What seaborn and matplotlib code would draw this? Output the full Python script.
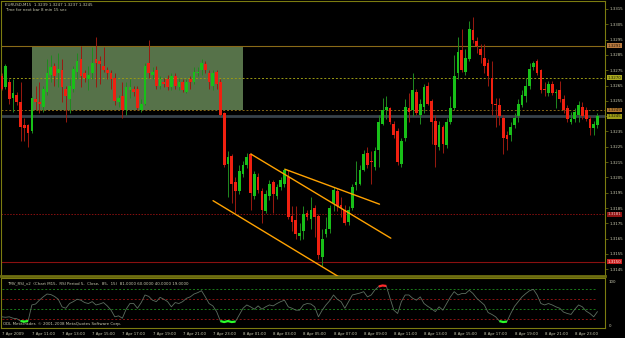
import numpy as np
import pandas as pd
import matplotlib
matplotlib.use("Agg")
import matplotlib.pyplot as plt
import matplotlib.transforms as mtransforms
from matplotlib.patches import Rectangle
import seaborn as sns

# ---------------- data ----------------
symbol_title = "EURUSD,M15  1.3239 1.3247 1.3237 1.3245"
timer_text = "Time for next bar 8 min 15 sec"
indicator_title = "TMV_RSI_v2  (Chart M15,  RSI Period 5,  Close,  85,  15)  81.0000 60.0000 40.0000 19.0000"
copyright_text = "ODL MetaTrader, \u00a9 2001-2008 MetaQuotes Software Corp."

opens = [
    1.3271, 1.3264, 1.3267, 1.3257, 1.3259, 1.3254, 1.3239, 1.3239, 1.3235, 1.3256,
    1.3254, 1.3251, 1.3261, 1.3272, 1.3278, 1.3273, 1.3275, 1.3263, 1.3256, 1.3263,
    1.3274, 1.3282, 1.3273, 1.3269, 1.3273, 1.3282, 1.3281, 1.3278, 1.3275, 1.3273,
    1.3270, 1.3254, 1.3258, 1.3249, 1.3262, 1.3263, 1.3263, 1.3249, 1.3253, 1.3280,
    1.3272, 1.3275, 1.3265, 1.3267, 1.3269, 1.3264, 1.3271, 1.3264, 1.3267, 1.3261,
    1.3269, 1.3267, 1.3273, 1.3275, 1.3279, 1.3273, 1.3265, 1.3274, 1.3267, 1.3247,
    1.3214, 1.3219, 1.3202, 1.3196, 1.3207, 1.3213, 1.3220, 1.3193, 1.3205, 1.3196,
    1.3183, 1.3193, 1.3202, 1.3193, 1.3199, 1.3201, 1.3205, 1.3180, 1.3177, 1.3167,
    1.3170, 1.3182, 1.3178, 1.3185, 1.3180, 1.3153, 1.3168, 1.3171, 1.3188, 1.3196,
    1.3187, 1.3184, 1.3176, 1.3185, 1.3200, 1.3201, 1.3210, 1.3221, 1.3216, 1.3212,
    1.3223, 1.3240, 1.3249, 1.3250, 1.3240, 1.3235, 1.3214, 1.3231, 1.3250, 1.3249,
    1.3261, 1.3246, 1.3251, 1.3265, 1.3255, 1.3242, 1.3225, 1.3238, 1.3226, 1.3241,
    1.3250, 1.3273, 1.3288, 1.3274, 1.3282, 1.3301, 1.3294, 1.3289, 1.3283, 1.3280,
    1.3270, 1.3253, 1.3252, 1.3244, 1.3233, 1.3233, 1.3239, 1.3245, 1.3252, 1.3258,
    1.3265, 1.3277, 1.3281, 1.3275, 1.3263, 1.3260, 1.3266, 1.3260, 1.3262, 1.3256,
    1.3250, 1.3241, 1.3243, 1.3246, 1.3251, 1.3249, 1.3243, 1.3237, 1.3239,
]
highs = [
    1.3273, 1.3279, 1.3269, 1.3269, 1.3261, 1.3267, 1.3244, 1.3240, 1.3258, 1.3265,
    1.3267, 1.3265, 1.3282, 1.3285, 1.3280, 1.3286, 1.3282, 1.3265, 1.3269, 1.3278,
    1.3286, 1.3291, 1.3275, 1.3278, 1.3290, 1.3297, 1.3284, 1.3290, 1.3277, 1.3275,
    1.3273, 1.3259, 1.3267, 1.3267, 1.3269, 1.3265, 1.3265, 1.3256, 1.3280, 1.3295,
    1.3277, 1.3278, 1.3271, 1.3270, 1.3272, 1.3273, 1.3273, 1.3270, 1.3269, 1.3269,
    1.3271, 1.3277, 1.3277, 1.3282, 1.3281, 1.3275, 1.3275, 1.3275, 1.3269, 1.3248,
    1.3222, 1.3220, 1.3205, 1.3213, 1.3216, 1.3221, 1.3221, 1.3209, 1.3208, 1.3198,
    1.3197, 1.3203, 1.3203, 1.3201, 1.3205, 1.3211, 1.3210, 1.3186, 1.3186, 1.3175,
    1.3186, 1.3184, 1.3192, 1.3187, 1.3181, 1.3171, 1.3179, 1.3187, 1.3199, 1.3198,
    1.3192, 1.3187, 1.3186, 1.3201, 1.3216, 1.3213, 1.3223, 1.3225, 1.3222, 1.3225,
    1.3246, 1.3257, 1.3258, 1.3251, 1.3242, 1.3237, 1.3231, 1.3256, 1.3260, 1.3273,
    1.3263, 1.3256, 1.3266, 1.3267, 1.3256, 1.3246, 1.3242, 1.3239, 1.3244, 1.3258,
    1.3285, 1.3297, 1.3302, 1.3289, 1.3307, 1.3310, 1.3297, 1.3292, 1.3292, 1.3282,
    1.3281, 1.3257, 1.3257, 1.3246, 1.3235, 1.3241, 1.3247, 1.3256, 1.3262, 1.3270,
    1.3280, 1.3281, 1.3282, 1.3276, 1.3267, 1.3268, 1.3268, 1.3263, 1.3268, 1.3259,
    1.3252, 1.3248, 1.3250, 1.3255, 1.3254, 1.3251, 1.3245, 1.3242, 1.3247,
]
lows = [
    1.3262, 1.3263, 1.3253, 1.3248, 1.3252, 1.3229, 1.3229, 1.3225, 1.3234, 1.3249,
    1.3247, 1.3248, 1.3259, 1.3267, 1.3265, 1.3264, 1.3254, 1.3241, 1.3247, 1.3261,
    1.3269, 1.3264, 1.3267, 1.3262, 1.3269, 1.3264, 1.3266, 1.3274, 1.3269, 1.3263,
    1.3252, 1.3251, 1.3244, 1.3246, 1.3257, 1.3258, 1.3249, 1.3248, 1.3252, 1.3270,
    1.3269, 1.3263, 1.3263, 1.3264, 1.3262, 1.3262, 1.3263, 1.3262, 1.3261, 1.3260,
    1.3263, 1.3266, 1.3271, 1.3272, 1.3273, 1.3263, 1.3262, 1.3263, 1.3245, 1.3212,
    1.3192, 1.3188, 1.3182, 1.3194, 1.3205, 1.3211, 1.3184, 1.3191, 1.3195, 1.3175,
    1.3182, 1.3190, 1.3182, 1.3191, 1.3197, 1.3199, 1.3178, 1.3170, 1.3165, 1.3164,
    1.3165, 1.3177, 1.3171, 1.3166, 1.3152, 1.3147, 1.3166, 1.3169, 1.3183, 1.3183,
    1.3179, 1.3174, 1.3174, 1.3184, 1.3197, 1.3200, 1.3209, 1.3211, 1.3201, 1.3210,
    1.3212, 1.3239, 1.3243, 1.3240, 1.3231, 1.3213, 1.3212, 1.3229, 1.3241, 1.3245,
    1.3246, 1.3240, 1.3247, 1.3252, 1.3227, 1.3212, 1.3223, 1.3221, 1.3224, 1.3240,
    1.3249, 1.3269, 1.3274, 1.3272, 1.3281, 1.3293, 1.3286, 1.3280, 1.3273, 1.3265,
    1.3246, 1.3238, 1.3239, 1.3220, 1.3223, 1.3229, 1.3237, 1.3241, 1.3251, 1.3254,
    1.3263, 1.3275, 1.3272, 1.3260, 1.3258, 1.3258, 1.3259, 1.3250, 1.3254, 1.3247,
    1.3241, 1.3240, 1.3241, 1.3241, 1.3243, 1.3242, 1.3233, 1.3233, 1.3237,
]
closes = [
    1.3263, 1.3278, 1.3256, 1.3260, 1.3254, 1.3238, 1.3237, 1.3234, 1.3257, 1.3254,
    1.3253, 1.3263, 1.3273, 1.3277, 1.3271, 1.3276, 1.3264, 1.3258, 1.3265, 1.3276,
    1.3281, 1.3271, 1.3270, 1.3272, 1.3280, 1.3280, 1.3279, 1.3275, 1.3273, 1.3269,
    1.3255, 1.3257, 1.3249, 1.3264, 1.3264, 1.3261, 1.3250, 1.3253, 1.3278, 1.3273,
    1.3274, 1.3265, 1.3269, 1.3266, 1.3264, 1.3271, 1.3265, 1.3267, 1.3262, 1.3267,
    1.3267, 1.3274, 1.3274, 1.3280, 1.3275, 1.3267, 1.3273, 1.3266, 1.3246, 1.3213,
    1.3218, 1.3201, 1.3196, 1.3209, 1.3213, 1.3218, 1.3195, 1.3207, 1.3197, 1.3184,
    1.3194, 1.3201, 1.3194, 1.3199, 1.3203, 1.3210, 1.3179, 1.3176, 1.3168, 1.3169,
    1.3181, 1.3179, 1.3184, 1.3179, 1.3154, 1.3165, 1.3171, 1.3185, 1.3197, 1.3186,
    1.3185, 1.3175, 1.3184, 1.3199, 1.3202, 1.3210, 1.3220, 1.3213, 1.3215, 1.3222,
    1.3241, 1.3249, 1.3251, 1.3241, 1.3233, 1.3215, 1.3229, 1.3251, 1.3248, 1.3262,
    1.3247, 1.3253, 1.3264, 1.3253, 1.3241, 1.3226, 1.3239, 1.3227, 1.3241, 1.3250,
    1.3271, 1.3287, 1.3275, 1.3283, 1.3302, 1.3295, 1.3291, 1.3285, 1.3278, 1.3271,
    1.3253, 1.3252, 1.3245, 1.3231, 1.3230, 1.3238, 1.3244, 1.3253, 1.3259, 1.3265,
    1.3276, 1.3280, 1.3273, 1.3262, 1.3262, 1.3266, 1.3260, 1.3261, 1.3256, 1.3249,
    1.3243, 1.3243, 1.3248, 1.3252, 1.3245, 1.3243, 1.3237, 1.3240, 1.3245,
]
rsi_values = [
    23, 22, 23, 20, 19, 14, 13, 14, 48, 50,
    58, 65, 71, 70, 66, 60, 44, 41, 51, 55,
    60, 58, 53, 51, 55, 48, 50, 53, 46, 37,
    23, 25, 20, 39, 51, 51, 41, 53, 69, 66,
    58, 55, 64, 60, 55, 44, 53, 51, 55, 62,
    65, 71, 74, 78, 65, 51, 46, 34, 14, 12,
    14, 12, 13, 27, 41, 48, 44, 39, 46, 39,
    44, 48, 46, 51, 55, 58, 44, 41, 37, 37,
    48, 51, 50, 44, 23, 37, 48, 57, 69, 60,
    55, 41, 55, 69, 71, 73, 76, 65, 69, 80,
    87, 89, 88, 62, 37, 30, 55, 69, 69, 62,
    58, 65, 51, 45, 40, 34, 44, 37, 51, 65,
    76, 69, 72, 72, 79, 72, 62, 55, 48, 32,
    28, 23, 14, 12, 13, 30, 45, 55, 65, 72,
    78, 81, 69, 51, 48, 51, 48, 44, 41, 33,
    30, 28, 39, 48, 44, 35, 30, 23, 34,
]
rsi_levels = [81, 60, 40, 19]
rsi_upper_zone = 85
rsi_lower_zone = 15

price_ticks = [1.3145, 1.3155, 1.3165, 1.3175, 1.3185, 1.3195, 1.3205, 1.3215, 1.3225,
               1.3235, 1.3245, 1.3255, 1.3265, 1.3275, 1.3285, 1.3295, 1.3305, 1.3315]
time_tick_bars = [0, 8, 16, 24, 32, 40, 48, 56, 64, 72, 80, 88, 96, 104, 112, 120, 128, 136, 144, 152]
time_tick_labels = ["7 Apr 2009", "7 Apr 11:00", "7 Apr 13:00", "7 Apr 15:00", "7 Apr 17:00",
                    "7 Apr 19:00", "7 Apr 21:00", "7 Apr 23:00", "8 Apr 01:00", "8 Apr 03:00",
                    "8 Apr 05:00", "8 Apr 07:00", "8 Apr 09:00", "8 Apr 11:00", "8 Apr 13:00",
                    "8 Apr 15:00", "8 Apr 17:00", "8 Apr 19:00", "8 Apr 21:00", "8 Apr 23:00"]

level_prices = [1.3320, 1.3291, 1.3270, 1.3249, 1.3245, 1.3181, 1.3150]
boxed_prices = [1.3291, 1.3270, 1.3249, 1.3245, 1.3181, 1.3150]

zone_bars = [8, 64]
zone_prices = [1.3249, 1.3291]

trend_start_bars = [56.05, 66.05, 75.15]
trend_end_bars = [90.45, 103.2, 100.2]
trend_start_prices = [1.31898, 1.32203, 1.32103]
trend_end_prices = [1.31385, 1.31653, 1.31875]

# ---------------- style ----------------
sns.set_theme(style="dark", rc={"axes.facecolor": "black", "figure.facecolor": "black"})
plt.rcParams["font.family"] = ["DejaVu Sans"]

W, H = 625, 338
TXT = "#c9c9b0"
OLIVE = "#7c7c10"
FS = 2.9


def frac(l, t, r, b):
    return [l / W, 1 - b / H, (r - l) / W, (b - t) / H]


fig = plt.figure(figsize=(W / 100, H / 100), dpi=100, facecolor="black")
ax = fig.add_axes(frac(1.32, 1, 605, 276))
ax2 = fig.add_axes(frac(1.32, 278, 605, 328))

df = pd.DataFrame({"open": opens, "high": highs, "low": lows, "close": closes})
df["bar"] = np.arange(len(df))
df["bull"] = df["close"] > df["open"]

xlim = (-0.1, 160.0)
for a in (ax, ax2):
    a.set_facecolor("black")
    a.set_xlim(*xlim)
    for s in a.spines.values():
        s.set_color(OLIVE)
        s.set_linewidth(0.8)
        s.set_visible(True)
    a.grid(False)

ax.set_ylim(1.31406, 1.33202)

# zone rectangle
ax.add_patch(Rectangle((zone_bars[0], zone_prices[0]), zone_bars[1] - zone_bars[0],
                       zone_prices[1] - zone_prices[0], facecolor="#567249",
                       edgecolor="none", zorder=1))

# horizontal level lines
level_styles = [
    dict(color="#80801a", ls=(0, (1.5, 1.5)), lw=0.7),
    dict(color="#8a6a18", ls="-", lw=0.8),
    dict(color="#9a9a14", ls=(0, (2, 2)), lw=0.7),
    dict(color="#8a6a18", ls=(0, (2, 2)), lw=0.7),
    dict(color="#38424a", ls="-", lw=2.0),
    dict(color="#8a1010", ls=(0, (1.5, 1.5)), lw=0.7),
    dict(color="#8a1010", ls="-", lw=0.8),
]
for p, st in zip(level_prices, level_styles):
    ax.axhline(p, zorder=2, **st)

# candles
up = df[df["bull"]]
dn = df[~df["bull"]]
ax.vlines(up["bar"], up["low"], up["high"], color="#1f8a1f", lw=0.7, zorder=3)
ax.vlines(dn["bar"], dn["low"], dn["high"], color="#9a1a10", lw=0.7, zorder=3)
min_h = 0.00004
ax.bar(up["bar"], np.maximum(up["close"] - up["open"], min_h), bottom=up["open"],
       width=0.72, color="#18c018", linewidth=0, zorder=4)
ax.bar(dn["bar"], np.maximum(dn["open"] - dn["close"], min_h), bottom=dn["close"],
       width=0.72, color="#f02010", linewidth=0, zorder=4)

# trend lines
for xs, xe, ys, ye in zip(trend_start_bars, trend_end_bars, trend_start_prices, trend_end_prices):
    ax.plot([xs, xe], [ys, ye], color="#ffa200", lw=1.0, zorder=5, solid_capstyle="round")

# price axis (a tick label hidden under a price box is left blank; the box shows it)
ax.yaxis.tick_right()
ax.set_yticks(price_ticks)
tick_texts = []
for p in price_ticks:
    covered = any(abs(p - b) < 0.00003 for b in boxed_prices)
    tick_texts.append("" if covered else f"{p:.4f}")
ax.set_yticklabels(tick_texts)
ax.tick_params(axis="y", labelsize=FS, labelcolor=TXT, color=OLIVE, length=2, width=0.5, pad=1.2)
ax.set_xticks([])

box_styles = [
    ("#b87a40", "#2a1a08"),
    ("#a8a820", "#202000"),
    ("#b07830", "#2a1a08"),
    ("#9c9c18", "#202000"),
    ("#901414", "#f0c0c0"),
    ("#c82020", "#ffe0e0"),
]
trans = mtransforms.blended_transform_factory(ax.transAxes, ax.transData)
for p, (fc, tc) in zip(boxed_prices, box_styles):
    ax.text(1.0045, p, f"{p:.4f}", transform=trans, fontsize=FS, color=tc, va="center",
            ha="left", clip_on=False, zorder=10,
            bbox=dict(boxstyle="square,pad=0.1", fc=fc, ec="none"))

ax.spines["bottom"].set_linewidth(2.0)
ax.spines["bottom"].set_color("#6e6e10")

# ---------------- indicator ----------------
ax2.set_ylim(-0.6, 104.8)
lvl_colors = ["#1a7a1a", "#8a1414", "#1a7a1a", "#8a1414"]
for lv, c in zip(rsi_levels, lvl_colors):
    ax2.plot([0, 158], [lv, lv], color=c, ls=(0, (2, 2)), lw=0.7, zorder=2)

bars = np.arange(len(rsi_values))
rsi = np.array(rsi_values, dtype=float)
sns.lineplot(x=bars, y=rsi, ax=ax2, color="#5d6e60", lw=0.6, legend=False, zorder=3)
hi = np.where(rsi > rsi_upper_zone, rsi, np.nan)
lo = np.where(rsi < rsi_lower_zone, rsi, np.nan)
ax2.plot(bars, hi, color="#ff2a2a", lw=1.6, zorder=4, solid_capstyle="butt")
ax2.plot(bars, lo, color="#2aff2a", lw=1.6, zorder=4, solid_capstyle="butt")

ax2.set_yticks([])
ax2.set_ylabel("")
trans2 = mtransforms.blended_transform_factory(ax2.transAxes, ax2.transData)
ax2.text(1.006, 100, "100", transform=trans2, fontsize=FS, color=TXT, va="top", ha="left", clip_on=False)
ax2.text(1.006, 0, "0", transform=trans2, fontsize=FS, color=TXT, va="bottom", ha="left", clip_on=False)

ax2.set_xticks(time_tick_bars)
ax2.set_xticklabels(time_tick_labels, ha="left")
ax2.tick_params(axis="x", labelsize=2.8, labelcolor=TXT, color=OLIVE, length=2, width=0.5, pad=0.8)
ax2.set_xlabel("")

ax2.text(0.01, 0.93, indicator_title, transform=ax2.transAxes, fontsize=2.9, color=TXT,
         va="top", ha="left")
ax2.text(0.003, 0.03, copyright_text, transform=ax2.transAxes, fontsize=2.9, color=TXT,
         va="bottom", ha="left")

fig.text(5 / W, 1 - 5 / H, symbol_title, fontsize=2.9, color=TXT, va="center", ha="left")
fig.text(5 / W, 1 - 10 / H, timer_text, fontsize=2.9, color=TXT, va="center", ha="left")

fig.savefig("out.png", dpi=100, facecolor="black")
